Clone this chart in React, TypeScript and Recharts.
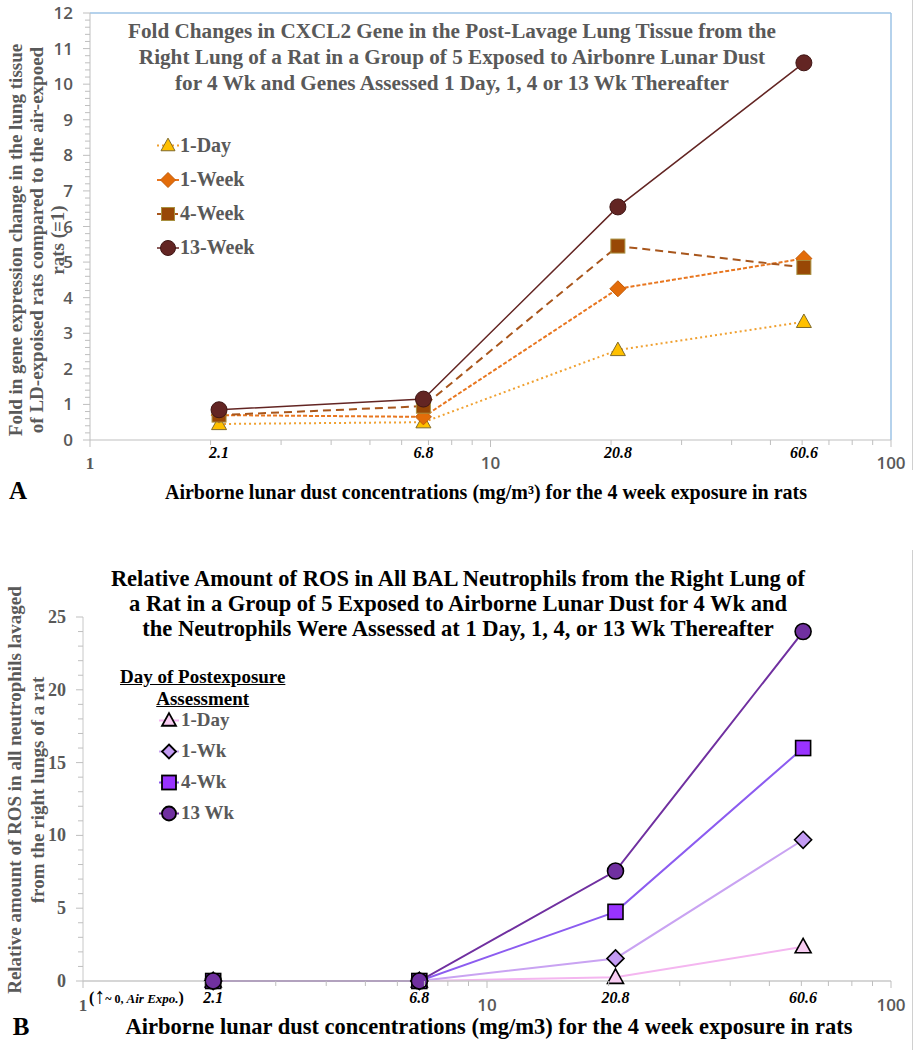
import React from "react";
import { LineChart, Line, XAxis, YAxis, CartesianGrid, ReferenceLine } from "recharts";

// exposure concentrations (mg/m3)
const doses = [2.1, 6.8, 20.8, 60.6];

// Panel A: CXCL2 fold change
const cxclDay1 = [0.45, 0.5, 2.53, 3.32];
const cxclWeek1 = [0.7, 0.65, 4.25, 5.1];
const cxclWeek4 = [0.7, 0.95, 5.45, 4.85];
const cxclWeek13 = [0.85, 1.15, 6.55, 10.6];

// Panel B: ROS in BAL neutrophils
const rosDay1 = [0, 0, 0.25, 2.35];
const rosWeek1 = [0, 0, 1.55, 9.7];
const rosWeek4 = [0, 0, 4.75, 16.0];
const rosWeek13 = [0, 0, 7.55, 24.0];

const majorLogTicks = [1, 10, 100];
const minorLogTicks = [2, 3, 4, 5, 6, 7, 8, 9, 20, 30, 40, 50, 60, 70, 80, 90];
const cxclYTicks = [0, 1, 2, 3, 4, 5, 6, 7, 8, 9, 10, 11, 12];
const rosYTicks = [0, 5, 10, 15, 20, 25];

const cxclRows = doses.map((dose, i) => ({
  dose,
  day1: cxclDay1[i],
  week1: cxclWeek1[i],
  week4: cxclWeek4[i],
  week13: cxclWeek13[i],
}));

const rosRows = doses.map((dose, i) => ({
  dose,
  day1: rosDay1[i],
  week1: rosWeek1[i],
  week4: rosWeek4[i],
  week13: rosWeek13[i],
}));

const xTicks = [...majorLogTicks, ...minorLogTicks, ...doses].sort((a, b) => a - b);

const cxclMinorY: number[] = [];
for (let i = 0; i <= 60; i++) cxclMinorY.push(i / 5);
const rosMinorY: number[] = [];
for (let i = 0; i <= 25; i++) rosMinorY.push(i);

const SERIF = "'Liberation Serif', 'Times New Roman', serif";
const SANS = "'Open Sans', 'Liberation Sans', sans-serif";
const GRAY = "#595959";

type Shape = "triangle" | "diamond" | "square" | "circle";
interface SeriesStyle {
  key: string;
  name: string;
  line: string;
  dash?: string;
  width: number;
  shape: Shape;
  fill: string;
  stroke: string;
  sw: number;
  size: number;
}

const cxclSeries: SeriesStyle[] = [
  { key: "day1", name: "1-Day", line: "#F0A030", dash: "2 3", width: 2, shape: "triangle", fill: "#FFC000", stroke: "#7F6A2A", sw: 1, size: 15 },
  { key: "week1", name: "1-Week", line: "#E8761F", dash: "4 2", width: 2, shape: "diamond", fill: "#E36C09", stroke: "#C05A08", sw: 1, size: 16 },
  { key: "week4", name: "4-Week", line: "#A8561C", dash: "8 5", width: 2, shape: "square", fill: "#984806", stroke: "#A89040", sw: 1, size: 14 },
  { key: "week13", name: "13-Week", line: "#632523", width: 1.5, shape: "circle", fill: "#632523", stroke: "#3F1615", sw: 1, size: 16 },
];

const rosSeries: SeriesStyle[] = [
  { key: "day1", name: "1-Day", line: "#F4B6F0", width: 2, shape: "triangle", fill: "#F8CDF2", stroke: "#000", sw: 1.6, size: 16 },
  { key: "week1", name: "1-Wk", line: "#C9A3F2", width: 2, shape: "diamond", fill: "#C39BF3", stroke: "#000", sw: 1.6, size: 17 },
  { key: "week4", name: "4-Wk", line: "#8C5CF0", width: 2, shape: "square", fill: "#9933FF", stroke: "#000", sw: 1.6, size: 15 },
  { key: "week13", name: "13 Wk", line: "#7030A0", width: 2, shape: "circle", fill: "#7030A0", stroke: "#000", sw: 1.6, size: 16 },
];

function Marker({ cx, cy, s }: { cx: number; cy: number; s: SeriesStyle }) {
  const h = s.size / 2;
  const common = { fill: s.fill, stroke: s.stroke, strokeWidth: s.sw };
  if (s.shape === "circle") return <circle cx={cx} cy={cy} r={h} {...common} />;
  if (s.shape === "square") return <rect x={cx - h} y={cy - h} width={s.size} height={s.size} {...common} />;
  if (s.shape === "diamond")
    return <polygon points={`${cx},${cy - h} ${cx + h},${cy} ${cx},${cy + h} ${cx - h},${cy}`} {...common} />;
  return (
    <polygon
      points={`${cx},${cy - h * 1.05} ${cx + h},${cy + h * 0.75} ${cx - h},${cy + h * 0.75}`}
      {...common}
    />
  );
}

function dotFor(s: SeriesStyle) {
  return (props: any) => {
    const { cx, cy, index } = props;
    if (cx == null || cy == null) return <g key={index} />;
    return <Marker key={`${s.key}-${index}`} cx={cx} cy={cy} s={s} />;
  };
}

function LogTick(props: any) {
  const { x, y, payload, doseDy, majorDy, doseSize, majorSize } = props;
  const v = payload.value;
  if (doses.includes(v)) {
    return (
      <text x={x} y={y + doseDy} textAnchor="middle" fontFamily={SERIF} fontStyle="italic" fontWeight="bold" fontSize={doseSize} fill="#000">
        {v}
      </text>
    );
  }
  const major = majorLogTicks.includes(v);
  return (
    <g>
      <line x1={x} x2={x} y1={y} y2={y + (major ? 7 : 5)} stroke="#BFBFBF" />
      {major && (
        <text
          x={x}
          y={y + majorDy}
          textAnchor="middle"
          fontFamily={v === 1 ? SERIF : SANS}
          fontWeight={v === 1 ? "bold" : 600}
          fontSize={majorSize}
          fill={GRAY}
        >
          {v}
        </text>
      )}
    </g>
  );
}

function ValueTick(props: any) {
  const { x, y, payload, majors, font, size, weight } = props;
  const v = payload.value;
  const major = majors.includes(v);
  return (
    <g>
      <line x1={x} x2={x - (major ? 7 : 5)} y1={y} y2={y} stroke="#BFBFBF" />
      {major && (
        <text x={x - 17} y={y + 6} textAnchor="end" fontFamily={font} fontWeight={weight} fontSize={size} fill={GRAY}>
          {v}
        </text>
      )}
    </g>
  );
}

function LegendMarker({ s, w = 22 }: { s: SeriesStyle; w?: number }) {
  const hh = s.size / 2 + 2;
  return (
    <svg width={w} height={s.size + 4} style={{ display: "block" }}>
      <line x1={0} x2={w} y1={hh} y2={hh} stroke={s.line} strokeWidth={s.width} strokeDasharray={s.dash} />
      <Marker cx={w / 2} cy={hh} s={{ ...s, size: s.size - 1 }} />
    </svg>
  );
}

const abs = (left: number, top: number, extra: React.CSSProperties = {}): React.CSSProperties => ({
  position: "absolute",
  left,
  top,
  whiteSpace: "nowrap",
  ...extra,
});

const centered = (cx: number, cy: number, extra: React.CSSProperties = {}): React.CSSProperties => ({
  position: "absolute",
  left: cx,
  top: cy,
  transform: "translate(-50%, -50%)",
  whiteSpace: "nowrap",
  ...extra,
});

const rotated = (cx: number, cy: number, extra: React.CSSProperties = {}): React.CSSProperties => ({
  position: "absolute",
  left: cx,
  top: cy,
  transform: "translate(-50%, -50%) rotate(-90deg)",
  whiteSpace: "nowrap",
  ...extra,
});

function gridX(v: number[]) {
  return ({ xAxis }: any) => (xAxis && typeof xAxis.scale === "function" ? v.map((t) => xAxis.scale(t)) : []);
}
function gridY(v: number[]) {
  return ({ yAxis }: any) => (yAxis && typeof yAxis.scale === "function" ? v.map((t) => yAxis.scale(t)) : []);
}

function PanelA() {
  return (
    <div style={{ position: "absolute", left: 0, top: 0, width: 914, height: 510 }}>
      <LineChart width={914} height={510} data={cxclRows} margin={{ top: 13, right: 23, bottom: 0, left: 0 }}>
        <CartesianGrid
          stroke="#E6E6E6"
          verticalCoordinatesGenerator={gridX(minorLogTicks.concat([10]))}
          horizontalCoordinatesGenerator={gridY(cxclYTicks.slice(1, -1))}
        />
        <XAxis
          dataKey="dose"
          type="number"
          scale="log"
          domain={[1, 100]}
          allowDataOverflow
          ticks={xTicks}
          interval={0}
          tick={<LogTick doseDy={18} majorDy={29} doseSize={16} majorSize={17} />}
          tickLine={false}
          tickSize={0}
          tickMargin={0}
          axisLine={{ stroke: "#BFBFBF" }}
          height={70}
        />
        <YAxis
          type="number"
          domain={[0, 12]}
          ticks={cxclMinorY}
          interval={0}
          tick={<ValueTick majors={cxclYTicks} font={SANS} size={17} weight={600} />}
          tickLine={false}
          tickSize={0}
          tickMargin={0}
          axisLine={{ stroke: "#BFBFBF" }}
          width={90}
        />
        <ReferenceLine y={12} stroke="#9DC3E6" strokeWidth={1.5} />
        <ReferenceLine x={100} stroke="#9DC3E6" strokeWidth={1.5} />
        {cxclSeries.map((s) => (
          <Line
            key={s.key}
            dataKey={s.key}
            name={s.name}
            type="linear"
            stroke={s.line}
            strokeWidth={s.width}
            strokeDasharray={s.dash}
            dot={dotFor(s)}
            activeDot={false}
            isAnimationActive={false}
          />
        ))}
      </LineChart>

      <div style={centered(452, 57, { fontFamily: SERIF, fontWeight: "bold", fontSize: 21.2, color: GRAY, textAlign: "center", lineHeight: "26px" })}>
        Fold Changes in CXCL2 Gene in the Post-Lavage Lung Tissue from the
        <br />
        Right Lung of a Rat in a Group of 5 Exposed to Airbonre Lunar Dust
        <br />
        for 4 Wk and Genes Assessed 1 Day, 1, 4 or 13 Wk Thereafter
      </div>

      {cxclSeries.map((s, i) => (
        <div key={s.key} style={abs(157, 134 + i * 34, { display: "flex", alignItems: "center", fontFamily: SERIF, fontWeight: "bold", fontSize: 20, color: GRAY })}>
          <LegendMarker s={s} w={22} />
          <span style={{ marginLeft: 1 }}>{s.name}</span>
        </div>
      ))}

      <div style={rotated(16, 240, { fontFamily: SERIF, fontWeight: "bold", fontSize: 19, color: GRAY })}>
        Fold in gene expression change in the lung tissue
      </div>
      <div style={rotated(37, 240, { fontFamily: SERIF, fontWeight: "bold", fontSize: 19, color: GRAY })}>
        of LD-expoised rats compared to the air-expoed
      </div>
      <div style={rotated(58, 240, { fontFamily: SERIF, fontWeight: "bold", fontSize: 19, color: GRAY })}>
        rats (=1)
      </div>

      <div style={centered(18, 491, { fontFamily: SERIF, fontWeight: "bold", fontSize: 25, color: "#000" })}>A</div>
      <div style={centered(486, 492, { fontFamily: SERIF, fontWeight: "bold", fontSize: 20, color: "#000" })}>
        Airborne lunar dust concentrations (mg/m³) for the 4 week exposure in rats
      </div>
    </div>
  );
}

function PanelB() {
  return (
    <div style={{ position: "absolute", left: 0, top: 510, width: 914, height: 540 }}>
      <LineChart width={914} height={540} data={rosRows} margin={{ top: 107, right: 23, bottom: 0, left: 0 }}>
        <CartesianGrid
          stroke="#E3E3E3"
          verticalCoordinatesGenerator={gridX([10, 100])}
          horizontalCoordinatesGenerator={gridY(rosYTicks.slice(1))}
        />
        <XAxis
          dataKey="dose"
          type="number"
          scale="log"
          domain={[1, 100]}
          allowDataOverflow
          ticks={xTicks}
          interval={0}
          tick={<LogTick doseDy={22} majorDy={30} doseSize={16} majorSize={17} />}
          tickLine={false}
          tickSize={0}
          tickMargin={0}
          axisLine={{ stroke: "#C8C8C8", strokeWidth: 1.5 }}
          height={69}
        />
        <YAxis
          type="number"
          domain={[0, 25]}
          ticks={rosMinorY}
          interval={0}
          tick={<ValueTick majors={rosYTicks} font={SERIF} size={18} weight="bold" />}
          tickLine={false}
          tickSize={0}
          tickMargin={0}
          axisLine={{ stroke: "#C8C8C8" }}
          width={83}
        />
        {rosSeries.map((s) => (
          <Line
            key={s.key}
            dataKey={s.key}
            name={s.name}
            type="linear"
            stroke={s.line}
            strokeWidth={s.width}
            dot={dotFor(s)}
            activeDot={false}
            isAnimationActive={false}
          />
        ))}
      </LineChart>

      <div style={centered(458, 93, { fontFamily: SERIF, fontWeight: "bold", fontSize: 22.5, color: "#000", textAlign: "center", lineHeight: "25px" })}>
        Relative Amount of ROS in All BAL Neutrophils from the Right Lung of
        <br />
        a Rat in a Group of 5 Exposed to Airborne Lunar Dust for 4 Wk and
        <br />
        the Neutrophils Were Assessed at 1 Day, 1, 4, or 13 Wk Thereafter
      </div>

      <div style={abs(120, 156, { fontFamily: SERIF, fontWeight: "bold", fontSize: 19, color: "#000", textAlign: "center", lineHeight: "22px", textDecoration: "underline" })}>
        Day of Postexposure
        <br />
        Assessment
      </div>
      {rosSeries.map((s, i) => (
        <div key={s.key} style={abs(159, 199 + i * 31, { display: "flex", alignItems: "center", fontFamily: SERIF, fontWeight: "bold", fontSize: 19, color: GRAY })}>
          <LegendMarker s={{ ...s, size: 15, sw: 1.8 }} w={20} />
          <span style={{ marginLeft: 2 }}>{s.name}</span>
        </div>
      ))}

      <div style={rotated(15, 280, { fontFamily: SERIF, fontWeight: "bold", fontSize: 19, color: GRAY })}>
        Relative amount of ROS in all neutrophils lavaged
      </div>
      <div style={rotated(38, 280, { fontFamily: SERIF, fontWeight: "bold", fontSize: 19, color: GRAY })}>
        from the right lungs of a rat
      </div>

      <div style={abs(89, 473, { fontFamily: SERIF, fontWeight: "bold", fontSize: 16, color: "#000" })}>
        (<span style={{ fontSize: 22, fontWeight: "normal" }}>↑</span>
        <span style={{ fontSize: 12 }}>~ 0, </span>
        <span style={{ fontStyle: "italic", fontSize: 13 }}>Air Expo.</span>)
      </div>

      <div style={centered(21, 517, { fontFamily: SERIF, fontWeight: "bold", fontSize: 25, color: "#000" })}>B</div>
      <div style={centered(489, 517, { fontFamily: SERIF, fontWeight: "bold", fontSize: 22.5, color: "#000" })}>
        Airborne lunar dust concentrations (mg/m3) for the 4 week exposure in rats
      </div>
    </div>
  );
}

export default function App() {
  return (
    <div style={{ position: "absolute", left: 0, top: 0, width: 914, height: 1050, background: "#fff", overflow: "hidden" }}>
      <PanelA />
      <PanelB />
      <div style={{ position: "absolute", left: 912, top: 0, width: 1, height: 470, background: "#D0D0D0" }} />
      <div style={{ position: "absolute", left: 912, top: 550, width: 1, height: 500, background: "#D0D0D0" }} />
    </div>
  );
}
